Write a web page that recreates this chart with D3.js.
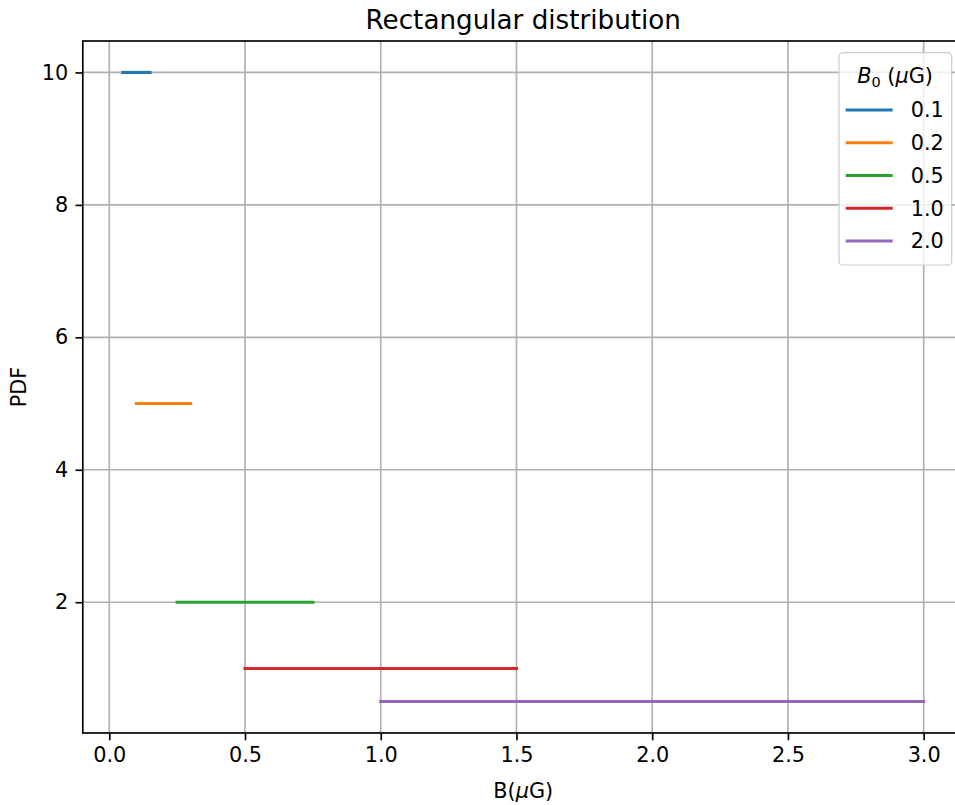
<!DOCTYPE html>
<html>
<head>
<meta charset="utf-8">
<script src="https://cdn.jsdelivr.net/npm/d3@7"></script>
<style>
  html, body { margin: 0; padding: 0; background: #fff; overflow: hidden; }
  svg { display: block; font-family: "DejaVu Sans", sans-serif; }
</style>
</head>
<body>
<svg id="chart" width="955" height="805"></svg>
<script>
// Rectangular PDFs: uniform between B0/2 and 3*B0/2 with height 1/B0
const b0Labels = ["0.1", "0.2", "0.5", "1.0", "2.0"];
const segStart = [0.05, 0.1, 0.25, 0.5, 1.0];
const segEnd = [0.15, 0.3, 0.75, 1.5, 3.0];
const pdfValues = [10, 5, 2, 1, 0.5];
const colors = ["#1f77b4", "#ff7f0e", "#2ca02c", "#d62728", "#9467bd"];
const xTicks = [0, 0.5, 1.0, 1.5, 2.0, 2.5, 3.0];
const yTicks = [2, 4, 6, 8, 10];

const svg = d3.select("#chart");
svg.append("rect").attr("width", 955).attr("height", 805).attr("fill", "#fff");

const plotL = 82.8, plotR = 963.7, plotT = 41, plotB = 733;
const x = d3.scaleLinear().domain([-0.0975, 3.1475]).range([plotL, plotR]);
const y = d3.scaleLinear().domain([0.025, 10.475]).range([plotB, plotT]);

const fontPx = 20.8;
const tickLen = 7.3;
const lw = 1.67;

// grid
const grid = svg.append("g");
grid.selectAll("line.gx").data(xTicks).join("line")
  .attr("x1", d => x(d)).attr("x2", d => x(d))
  .attr("y1", plotT).attr("y2", plotB)
  .attr("stroke", "#b0b0b0").attr("stroke-width", lw);
grid.selectAll("line.gy").data(yTicks).join("line")
  .attr("x1", plotL).attr("x2", plotR)
  .attr("y1", d => y(d)).attr("y2", d => y(d))
  .attr("stroke", "#b0b0b0").attr("stroke-width", lw);

// data segments
svg.append("g").selectAll("line").data(pdfValues).join("line")
  .attr("x1", (d, i) => x(segStart[i]))
  .attr("x2", (d, i) => x(segEnd[i]))
  .attr("y1", d => y(d)).attr("y2", d => y(d))
  .attr("stroke", (d, i) => colors[i])
  .attr("stroke-width", 3.1)
  .attr("stroke-linecap", "square");

// axes
const xAxis = d3.axisBottom(x).tickValues(xTicks).tickFormat(d3.format(".1f"))
  .tickSize(tickLen).tickPadding(tickLen).tickSizeOuter(0);
const yAxis = d3.axisLeft(y).tickValues(yTicks).tickFormat(d3.format("d"))
  .tickSize(tickLen).tickPadding(tickLen).tickSizeOuter(0);

const gx = svg.append("g").attr("transform", `translate(0,${plotB})`).call(xAxis);
const gy = svg.append("g").attr("transform", `translate(${plotL},0)`).call(yAxis);
[gx, gy].forEach(g => {
  g.select(".domain").remove();
  g.selectAll(".tick line").attr("stroke", "#000").attr("stroke-width", lw);
  g.selectAll(".tick text").attr("fill", "#000")
    .style("font-family", "DejaVu Sans").style("font-size", fontPx + "px");
});

// spines
svg.append("rect").attr("x", plotL).attr("y", plotT)
  .attr("width", plotR - plotL).attr("height", plotB - plotT)
  .attr("fill", "none").attr("stroke", "#000").attr("stroke-width", lw);

// title and axis labels
svg.append("text").attr("x", (plotL + plotR) / 2).attr("y", 28.5)
  .attr("text-anchor", "middle").style("font-size", "26.2px").attr("fill", "#000")
  .text("Rectangular distribution");

const xl = svg.append("text").attr("x", (plotL + plotR) / 2).attr("y", 798)
  .attr("text-anchor", "middle").style("font-size", fontPx + "px").attr("fill", "#000");
xl.append("tspan").text("B(");
xl.append("tspan").attr("font-style", "italic").text("μ");
xl.append("tspan").text("G)");

svg.append("text").attr("transform", `translate(26,${(plotT + plotB) / 2}) rotate(-90)`)
  .attr("text-anchor", "middle").style("font-size", fontPx + "px").attr("fill", "#000")
  .text("PDF");

// legend
const leg = svg.append("g");
leg.append("rect").attr("x", 839).attr("y", 52.7).attr("width", 112.7).attr("height", 212.3)
  .attr("rx", 4).attr("fill", "#fff").attr("fill-opacity", 0.8)
  .attr("stroke", "#cccccc").attr("stroke-width", 1.2);

const lt = leg.append("text").attr("x", 895).attr("y", 82.7)
  .attr("text-anchor", "middle").style("font-size", fontPx + "px").attr("fill", "#000");
lt.append("tspan").attr("font-style", "italic").text("B");
lt.append("tspan").attr("dy", 4.5).style("font-size", "14.5px").text("0");
lt.append("tspan").attr("dy", -4.5).text(" (");
lt.append("tspan").attr("font-style", "italic").text("μ");
lt.append("tspan").text("G)");

const rowY = i => 110 + i * 32.75;
const rows = leg.selectAll("g.row").data(b0Labels).join("g");
rows.append("line")
  .attr("x1", 845.7).attr("x2", 892.7)
  .attr("y1", (d, i) => rowY(i)).attr("y2", (d, i) => rowY(i))
  .attr("stroke", (d, i) => colors[i]).attr("stroke-width", 3.1);
rows.append("text")
  .attr("x", 910.7).attr("y", (d, i) => rowY(i)).attr("dy", "0.36em")
  .style("font-size", fontPx + "px").attr("fill", "#000")
  .text(d => d);
</script>
</body>
</html>
